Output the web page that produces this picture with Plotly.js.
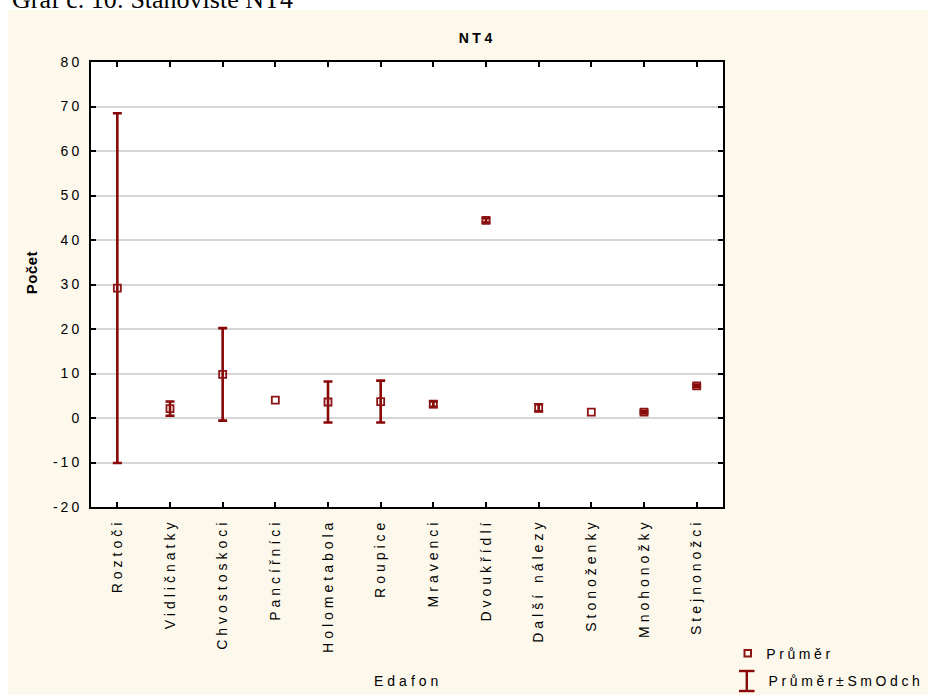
<!DOCTYPE html>
<html>
<head>
<meta charset="utf-8">
<script src="https://cdn.plot.ly/plotly-3.0.1.min.js"></script>
<style>
  html, body { margin: 0; padding: 0; background: #ffffff; }
  #chart { width: 928px; height: 695px; }
  .xtick text { letter-spacing: 4px; }
  .ytick text { letter-spacing: 3px; }
  .annotation[data-index="1"] text { letter-spacing: 3.5px; }
  .annotation[data-index="2"] text { letter-spacing: 0.5px; }
  .annotation[data-index="3"] text { letter-spacing: 4px; }
  .annotation[data-index="4"] text, .annotation[data-index="5"] text { letter-spacing: 3.6px; }
</style>
</head>
<body>
<div id="chart"></div>
<script>
// ---- data ----
const categories = ['Roztoči', 'Vidličnatky', 'Chvostoskoci', 'Pancířníci', 'Holometabola', 'Roupice',
                    'Mravenci', 'Dvoukřídlí', 'Další nálezy', 'Stonoženky', 'Mnohonožky', 'Stejnonožci'];
const means = [29.2, 2.1, 9.8, 4.0, 3.6, 3.7, 3.1, 44.4, 2.3, 1.3, 1.3, 7.2];
const sds   = [39.3, 1.6, 10.4, null, 4.6, 4.7, 0.6, 0.5, 0.8, null, 0.3, 0.3];
const yTicks = [-20, -10, 0, 10, 20, 30, 40, 50, 60, 70, 80];
const chartTitle = 'NT4';
const yTitle = 'Počet';
const xTitle = 'Edafon';
const caption = 'Graf č. 10: Stanoviště NT4';
const legendMean = 'Průměr';
const legendSd = 'Průměr±SmOdch';

// ---- layout helpers (pixel -> paper) ----
const W = 928, H = 695, L = 91, R = 205, T = 62, B = 188;
const PW = W - L - R, PH = H - T - B;
const px = x => (x - L) / PW;
const py = y => (H - B - y) / PH;

const cream = '#fdf8ec';
const markerColor = '#8c1414';
const barColor = '#880808';
const font = 'Arial, "Liberation Sans", sans-serif';

const trace = {
  type: 'scatter',
  mode: 'markers',
  x: categories,
  y: means,
  marker: { symbol: 'square-open', size: 7, color: markerColor, line: { width: 1.8, color: markerColor } },
  error_y: {
    type: 'data',
    symmetric: true,
    array: sds.map(v => (v === null ? NaN : v)),
    color: barColor,
    thickness: 2.6,
    width: 4.5
  },
  showlegend: false,
  hoverinfo: 'x+y'
};

const layout = {
  width: W, height: H,
  margin: { l: L, r: R, t: T, b: B },
  paper_bgcolor: cream,
  plot_bgcolor: '#ffffff',
  showlegend: false,
  font: { family: font, size: 14, color: '#000000' },
  xaxis: {
    type: 'category',
    range: [-0.5, categories.length - 0.5],
    showline: true, linecolor: '#000000', linewidth: 2,
    mirror: 'ticks', ticks: 'inside', ticklen: 5, tickwidth: 2, tickcolor: '#000000',
    showgrid: false, zeroline: false,
    tickangle: -90,
    tickfont: { family: font, size: 14, color: '#000000' },
    ticklabelstandoff: 4,
    fixedrange: true
  },
  yaxis: {
    range: [-20, 80],
    tickmode: 'array', tickvals: yTicks, ticktext: yTicks.map(String),
    showline: true, linecolor: '#000000', linewidth: 2,
    mirror: 'ticks', ticks: 'inside', ticklen: 5, tickwidth: 2, tickcolor: '#000000',
    showgrid: true, gridcolor: '#d6d6d6', gridwidth: 2,
    zeroline: false,
    tickfont: { family: font, size: 14, color: '#000000' },
    ticklabelstandoff: 4,
    fixedrange: true
  },
  shapes: [
    // white page strip on top and left
    { type: 'rect', xref: 'paper', yref: 'paper', x0: px(0), x1: px(W), y0: py(0), y1: py(10), fillcolor: '#ffffff', line: { width: 0 }, layer: 'below' },
    { type: 'rect', xref: 'paper', yref: 'paper', x0: px(0), x1: px(8), y0: py(0), y1: py(H), fillcolor: '#ffffff', line: { width: 0 }, layer: 'below' },
    // legend: mean symbol
    { type: 'rect', xref: 'paper', yref: 'paper', x0: px(744.5), x1: px(751), y0: py(650), y1: py(656.5), fillcolor: 'rgba(0,0,0,0)', line: { color: markerColor, width: 2 } },
    // legend: mean±SD symbol
    { type: 'line', xref: 'paper', yref: 'paper', x0: px(746.8), x1: px(746.8), y0: py(671), y1: py(691), line: { color: barColor, width: 2.4 } },
    { type: 'line', xref: 'paper', yref: 'paper', x0: px(739), x1: px(754.5), y0: py(671), y1: py(671), line: { color: barColor, width: 2.4 } },
    { type: 'line', xref: 'paper', yref: 'paper', x0: px(739), x1: px(754.5), y0: py(691), y1: py(691), line: { color: barColor, width: 2.4 } }
  ],
  annotations: [
    { text: caption, xref: 'paper', yref: 'paper', x: px(10), y: py(-1), xanchor: 'left', yanchor: 'middle',
      showarrow: false, font: { family: '"Liberation Serif", "Times New Roman", serif', size: 26, color: '#000000' } },
    { text: '<b>' + chartTitle + '</b>', xref: 'paper', yref: 'paper', x: px(477), y: py(38.5), xanchor: 'center', yanchor: 'middle',
      showarrow: false, font: { family: font, size: 14, color: '#000000' } },
    { text: '<b>' + yTitle + '</b>', xref: 'paper', yref: 'paper', x: px(31), y: py(272), xanchor: 'center', yanchor: 'middle',
      textangle: -90, showarrow: false, font: { family: font, size: 15, color: '#000000' } },
    { text: xTitle, xref: 'paper', yref: 'paper', x: px(408), y: py(681), xanchor: 'center', yanchor: 'middle',
      showarrow: false, font: { family: font, size: 14, color: '#000000' } },
    { text: legendMean, xref: 'paper', yref: 'paper', x: px(800), y: py(654), xanchor: 'center', yanchor: 'middle',
      showarrow: false, font: { family: font, size: 14, color: '#000000' } },
    { text: legendSd, xref: 'paper', yref: 'paper', x: px(846), y: py(681), xanchor: 'center', yanchor: 'middle',
      showarrow: false, font: { family: font, size: 14, color: '#000000' } }
  ]
};

Plotly.newPlot('chart', [trace], layout, { displayModeBar: false, staticPlot: true });
</script>
</body>
</html>
